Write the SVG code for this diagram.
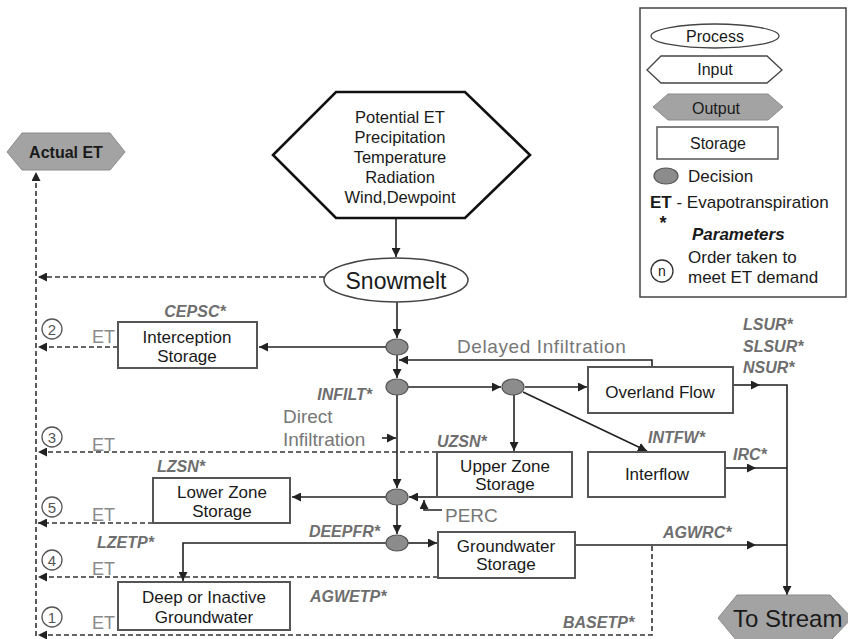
<svg xmlns="http://www.w3.org/2000/svg" width="848" height="639" viewBox="0 0 848 639">
<style>
text{font-family:"Liberation Sans",Arial,sans-serif;fill:#1a1a1a}
.box{fill:#fff;stroke:#555;stroke-width:2}
.bt{font-size:17px;text-anchor:middle}
.g{fill:#777}
.par{font-size:16px;font-weight:bold;font-style:italic;fill:#6e6e6e}
.et{font-size:18px;fill:#8a8a8a}
.ln{fill:none;stroke:#222;stroke-width:1.6}
.dl{fill:none;stroke:#333;stroke-width:1.6;stroke-dasharray:5 3}
.dec{fill:#8c8c8c;stroke:#555;stroke-width:1.2}
.out{fill:#a3a3a3;stroke:#8a8a8a;stroke-width:1}
.cir{fill:#fff;stroke:#555;stroke-width:1.3}
.cn{font-size:15px;text-anchor:middle;fill:#555}
</style>
<defs>
<marker id="ah" viewBox="0 0 10 10" refX="10" refY="5" markerWidth="9" markerHeight="9" markerUnits="userSpaceOnUse" orient="auto">
<path d="M0,0 L10,5 L0,10 z" fill="#222"/>
</marker>
</defs>

<g id="legend">
<rect x="640" y="8" width="206" height="289" fill="#fff" stroke="#444" stroke-width="1.5"/>
<ellipse cx="715" cy="36" rx="64" ry="12" fill="#fff" stroke="#444" stroke-width="1.3"/>
<text x="715" y="42" font-size="16" text-anchor="middle">Process</text>
<polygon points="647,70 661,56 767,56 782,70 767,83 661,83" fill="#fff" stroke="#444" stroke-width="1.3"/>
<text x="715" y="75" font-size="16" text-anchor="middle">Input</text>
<polygon class="out" points="653,107 668,94 768,94 783,107 768,120 668,120"/>
<text x="716" y="114" font-size="16" text-anchor="middle">Output</text>
<rect x="657" y="127" width="121" height="32" fill="#fff" stroke="#555" stroke-width="1.5"/>
<text x="718" y="149" font-size="16" text-anchor="middle">Storage</text>
<ellipse class="dec" cx="666" cy="176" rx="12" ry="8"/>
<text x="688" y="182" font-size="17">Decision</text>
<text x="650" y="208" font-size="17"><tspan font-weight="bold">ET</tspan> - Evapotranspiration</text>
<text x="663" y="229" font-size="18" font-weight="bold" text-anchor="middle">*</text>
<text x="692" y="240" font-size="17" font-weight="bold" font-style="italic">Parameters</text>
<circle cx="662" cy="271" r="11" fill="#fff" stroke="#333" stroke-width="1.3"/>
<text x="662" y="276" font-size="14" text-anchor="middle">n</text>
<text x="688" y="263" font-size="17">Order taken to</text>
<text x="688" y="283" font-size="17">meet ET demand</text>
</g>

<g id="connectors">
<path class="ln" d="M396 218 V257" marker-end="url(#ah)"/>
<path class="dl" d="M324 277 H38" marker-end="url(#ah)"/>
<path class="dl" d="M36 636 V172" marker-end="url(#ah)"/>
<path class="ln" d="M397 302 V338" marker-end="url(#ah)"/>
<path class="ln" d="M386 347 H259" marker-end="url(#ah)"/>
<path class="dl" d="M118 347 H38" marker-end="url(#ah)"/>
<path class="ln" d="M652 367 V360 H399" marker-end="url(#ah)"/>
<path class="ln" d="M397 355 V378" marker-end="url(#ah)"/>
<path class="ln" d="M382 438 H396" marker-end="url(#ah)"/>
<path class="ln" d="M397 395 V488" marker-end="url(#ah)"/>
<path class="ln" d="M386 497 H292" marker-end="url(#ah)"/>
<path class="dl" d="M153 523 H38" marker-end="url(#ah)"/>
<path class="ln" d="M397 505 V534" marker-end="url(#ah)"/>
<path class="ln" d="M386 543 H183 V581" marker-end="url(#ah)"/>
<path class="ln" d="M408 543 H437" marker-end="url(#ah)"/>
<path class="dl" d="M438 577 H38" marker-end="url(#ah)"/>
<path class="dl" d="M652 546 V635 H38" marker-end="url(#ah)"/>
<path class="ln" d="M408 387 H501" marker-end="url(#ah)"/>
<path class="ln" d="M525 387 H587" marker-end="url(#ah)"/>
<path class="ln" d="M514 395 V451" marker-end="url(#ah)"/>
<path class="ln" d="M523 392 L647 451" marker-end="url(#ah)"/>
<path class="dl" d="M437 452 H38" marker-end="url(#ah)"/>
<path class="ln" d="M437 497 H409" marker-end="url(#ah)"/>
<path class="ln" d="M442 510 H424 V500" marker-end="url(#ah)"/>
<path class="ln" d="M733 385 H760" marker-end="url(#ah)"/>
<path class="ln" d="M760 385 H787 V595" marker-end="url(#ah)"/>
<path class="ln" d="M725 468 H756" marker-end="url(#ah)"/>
<path class="ln" d="M756 468 H787"/>
<path class="ln" d="M575 545 H756" marker-end="url(#ah)"/>
<path class="ln" d="M756 545 H787"/>
</g>

<g id="input">
<polygon points="336,92 465,92 530,155 465,218 336,218 273,155" fill="#fff" stroke="#111" stroke-width="2.6"/>
<text x="400" y="123" font-size="16.5" text-anchor="middle">Potential ET</text>
<text x="400" y="143" font-size="16.5" text-anchor="middle">Precipitation</text>
<text x="400" y="163" font-size="16.5" text-anchor="middle">Temperature</text>
<text x="400" y="183" font-size="16.5" text-anchor="middle">Radiation</text>
<text x="400" y="203" font-size="16.5" text-anchor="middle">Wind,Dewpoint</text>
</g>

<g id="actual-et">
<polygon class="out" points="7,152 22,133 110,133 125,152 110,170 22,170"/>
<text x="66" y="158" font-size="16" font-weight="bold" text-anchor="middle">Actual ET</text>
</g>

<g id="snowmelt">
<ellipse cx="396" cy="280" rx="72" ry="22" fill="#fff" stroke="#444" stroke-width="1.5"/>
<text x="396" y="289" font-size="23" text-anchor="middle">Snowmelt</text>
</g>

<g id="decisions">
<ellipse class="dec" cx="397" cy="347" rx="11" ry="8"/>
<ellipse class="dec" cx="397" cy="387" rx="11" ry="8"/>
<ellipse class="dec" cx="513" cy="387" rx="11" ry="8"/>
<ellipse class="dec" cx="397" cy="497" rx="11" ry="8"/>
<ellipse class="dec" cx="397" cy="543" rx="11" ry="8"/>
</g>

<g id="interception">
<rect class="box" x="118" y="322" width="139" height="46"/>
<text class="bt" x="187" y="343">Interception</text>
<text class="bt" x="187" y="362">Storage</text>
</g>

<g id="lower-zone">
<rect class="box" x="153" y="478" width="137" height="45"/>
<text class="bt" x="222" y="498">Lower Zone</text>
<text class="bt" x="222" y="517">Storage</text>
</g>

<g id="deep-gw">
<rect class="box" x="118" y="582" width="172" height="48"/>
<text class="bt" x="204" y="603">Deep or Inactive</text>
<text class="bt" x="204" y="623">Groundwater</text>
</g>

<g id="upper-zone">
<rect class="box" x="437" y="452" width="135" height="45"/>
<text class="bt" x="505" y="472">Upper Zone</text>
<text class="bt" x="505" y="490">Storage</text>
</g>

<g id="groundwater">
<rect class="box" x="438" y="532" width="137" height="46"/>
<text class="bt" x="506" y="552">Groundwater</text>
<text class="bt" x="506" y="570">Storage</text>
</g>

<g id="overland">
<rect class="box" x="588" y="367" width="145" height="46"/>
<text class="bt" x="660" y="398">Overland Flow</text>
</g>

<g id="interflow">
<rect class="box" x="588" y="452" width="137" height="45"/>
<text class="bt" x="657" y="480">Interflow</text>
</g>

<g id="to-stream">
<polygon class="out" points="718,618 737,595 830,595 852,618 830,641 737,641"/>
<text x="733" y="627" font-size="24">To Stream</text>
</g>

<g id="labels">
<text class="par" x="195" y="317" text-anchor="middle">CEPSC*</text>
<text class="par" x="372" y="400" text-anchor="end">INFILT*</text>
<text class="g" x="283" y="423" font-size="19">Direct</text>
<text class="g" x="283" y="446" font-size="19">Infiltration</text>
<text class="par" x="157" y="472">LZSN*</text>
<text class="par" x="380" y="537" text-anchor="end">DEEPFR*</text>
<text class="par" x="97" y="548">LZETP*</text>
<text class="par" x="310" y="602">AGWETP*</text>
<text class="par" x="437" y="447">UZSN*</text>
<text class="par" x="648" y="443">INTFW*</text>
<text class="par" x="733" y="460">IRC*</text>
<text class="par" x="663" y="538">AGWRC*</text>
<text class="par" x="563" y="628">BASETP*</text>
<text class="par" x="743" y="330">LSUR*</text>
<text class="par" x="743" y="352">SLSUR*</text>
<text class="par" x="743" y="373">NSUR*</text>
<text class="g" x="457" y="353" font-size="19" letter-spacing="0.6">Delayed Infiltration</text>
<text class="g" x="445" y="522" font-size="19">PERC</text>
<text class="et" x="92" y="343">ET</text>
<text class="et" x="92" y="451">ET</text>
<text class="et" x="92" y="521">ET</text>
<text class="et" x="92" y="575">ET</text>
<text class="et" x="92" y="629">ET</text>
</g>

<g id="order">
<circle class="cir" cx="52" cy="329" r="10"/><text class="cn" x="52" y="334.5">2</text>
<circle class="cir" cx="52" cy="437" r="10"/><text class="cn" x="52" y="442.5">3</text>
<circle class="cir" cx="52" cy="507" r="10"/><text class="cn" x="52" y="512.5">5</text>
<circle class="cir" cx="52" cy="560" r="10"/><text class="cn" x="52" y="565.5">4</text>
<circle class="cir" cx="52" cy="617" r="10"/><text class="cn" x="52" y="622.5">1</text>
</g>
</svg>
